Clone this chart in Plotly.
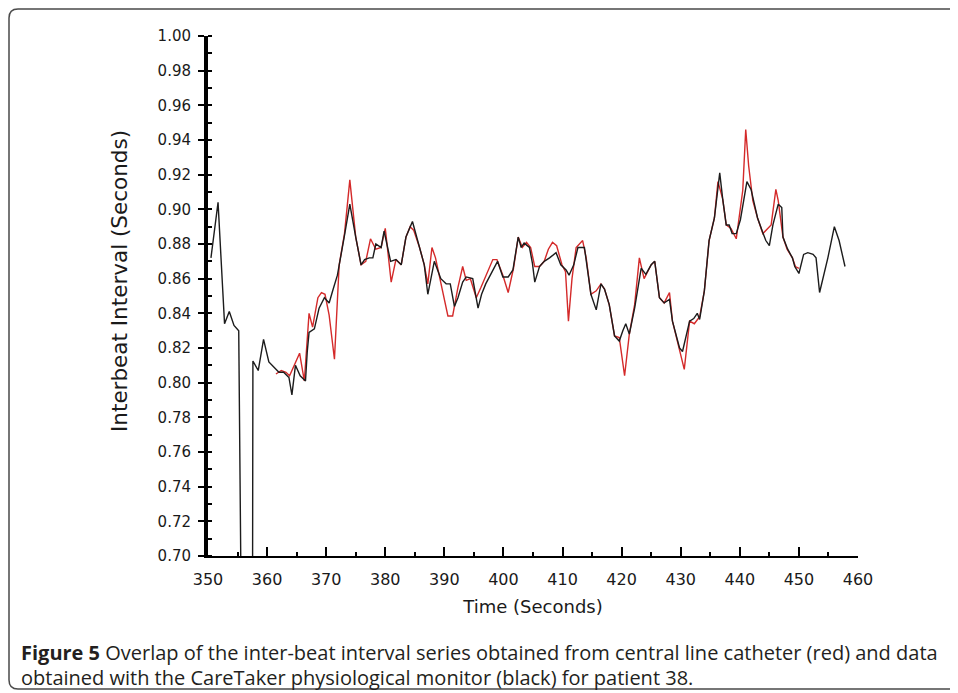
import plotly.graph_objects as go

# CareTaker physiological monitor (black)
t_black = [350.5, 351.1, 351.7, 352.5, 352.8, 353.6, 354.4, 355.2, 355.35, 355.8, 357.5, 357.6,
           358.5, 359.4, 360.3, 361.1, 362.0, 362.8, 363.7, 364.2, 364.8, 365.6, 366.5, 366.8,
           367.1, 368.0, 368.8, 369.7, 370.5, 371.1, 371.9, 373.1, 374.0, 375.0, 375.9, 376.5,
           377.3, 377.9, 378.4, 379.3, 379.8, 380.9, 381.8, 382.7, 383.5, 384.6, 385.8, 386.6,
           387.2, 388.3, 389.4, 390.3, 391.0, 391.7, 392.3, 393.1, 393.7, 394.8, 395.7, 396.3,
           397.0, 397.9, 399.0, 399.9, 400.8, 401.6, 402.5, 403.0, 403.5, 404.4, 404.9, 405.3,
           406.1, 406.9, 407.8, 408.9, 409.7, 410.6, 411.1, 411.9, 412.6, 413.7, 414.3, 414.8,
           415.7, 416.5, 417.1, 417.9, 418.8, 419.6, 420.2, 420.7, 421.3, 422.2, 423.3, 424.1,
           425.0, 425.6, 426.4, 427.2, 428.1, 428.6, 429.8, 430.3, 431.5, 432.2, 432.8, 433.2,
           434.0, 434.8, 435.7, 436.6, 437.1, 437.7, 438.2, 438.7, 439.4, 440.1, 441.2, 441.9,
           442.4, 443.0, 443.9, 444.4, 445.0, 445.6, 446.5, 447.1, 447.3, 448.1, 448.9, 449.3,
           450.0, 450.8, 451.5, 452.4, 452.9, 453.5, 454.9, 456.0, 456.8, 457.8]
ibi_black = [0.872, 0.888, 0.904, 0.853, 0.834, 0.841, 0.833, 0.830, 0.752, 0.600, 0.600, 0.8125,
             0.807, 0.825, 0.812, 0.809, 0.806, 0.806, 0.803, 0.793, 0.810, 0.804, 0.801, 0.818,
             0.829, 0.831, 0.843, 0.849, 0.846, 0.853, 0.862, 0.885, 0.903, 0.884, 0.868, 0.871,
             0.872, 0.872, 0.880, 0.878, 0.8875, 0.870, 0.871, 0.868, 0.884, 0.893, 0.878, 0.868,
             0.851, 0.870, 0.860, 0.857, 0.857, 0.844, 0.849, 0.858, 0.861, 0.860, 0.843, 0.851,
             0.857, 0.8625, 0.870, 0.861, 0.861, 0.865, 0.884, 0.878, 0.8805, 0.878, 0.869, 0.858,
             0.867, 0.870, 0.872, 0.875, 0.868, 0.865, 0.862, 0.868, 0.878, 0.878, 0.864, 0.851,
             0.842, 0.857, 0.854, 0.845, 0.827, 0.824, 0.830, 0.834, 0.828, 0.843, 0.866, 0.8625,
             0.868, 0.870, 0.849, 0.846, 0.848, 0.8355, 0.820, 0.818, 0.8355, 0.837, 0.840, 0.8365,
             0.853, 0.882, 0.895, 0.921, 0.906, 0.891, 0.891, 0.886, 0.886, 0.894, 0.916, 0.9115,
             0.904, 0.895, 0.8865, 0.882, 0.879, 0.891, 0.903, 0.901, 0.884, 0.877, 0.872, 0.867,
             0.863, 0.874, 0.875, 0.874, 0.872, 0.852, 0.872, 0.890, 0.882, 0.867]

# Central line catheter (red)
t_red = [361.5, 362.4, 363.2, 363.8, 364.6, 365.5, 366.3, 367.1, 367.7, 368.6, 369.2, 369.8,
         370.5, 371.4, 372.2, 373.1, 374.0, 375.0, 375.9, 376.7, 377.5, 378.4, 379.3, 380.0,
         381.0, 381.8, 382.7, 383.5, 384.2, 384.8, 385.8, 386.6, 387.2, 387.9, 388.5, 389.4,
         390.6, 391.4, 392.3, 393.1, 393.7, 394.4, 395.4, 396.2, 397.1, 398.2, 398.9, 399.9,
         400.8, 401.7, 402.5, 403.2, 403.9, 404.6, 405.3, 406.1, 406.9, 407.6, 408.3, 409.0,
         409.9, 410.5, 411.0, 411.6, 412.3, 413.4, 414.0, 414.8, 415.7, 416.5, 417.1, 417.9,
         418.8, 419.6, 420.5, 421.3, 422.2, 423.0, 423.8, 425.0, 425.6, 426.4, 427.2, 428.1,
         428.6, 429.6, 430.6, 431.5, 432.3, 433.2, 434.0, 434.8, 435.7, 436.3, 437.1, 437.7,
         438.5, 439.4, 440.5, 441.0, 441.5, 442.2, 443.0, 443.9, 445.3, 446.1, 446.5, 447.3,
         448.0, 448.9, 449.4, 450.0]
ibi_red = [0.805, 0.807, 0.806, 0.804, 0.810, 0.817, 0.801, 0.840, 0.832, 0.849, 0.852, 0.851,
           0.839, 0.8135, 0.868, 0.886, 0.917, 0.884, 0.868, 0.870, 0.883, 0.877, 0.878, 0.889,
           0.858, 0.871, 0.868, 0.884, 0.890, 0.888, 0.878, 0.868, 0.857, 0.878, 0.872, 0.857,
           0.8385, 0.8385, 0.855, 0.867, 0.859, 0.860, 0.849, 0.855, 0.862, 0.871, 0.871, 0.862,
           0.852, 0.866, 0.884, 0.878, 0.881, 0.878, 0.867, 0.867, 0.870, 0.877, 0.881, 0.879,
           0.868, 0.864, 0.8355, 0.860, 0.878, 0.882, 0.872, 0.851, 0.853, 0.857, 0.854, 0.845,
           0.827, 0.826, 0.804, 0.828, 0.845, 0.872, 0.860, 0.868, 0.870, 0.849, 0.846, 0.852,
           0.8355, 0.822, 0.8077, 0.8355, 0.834, 0.838, 0.853, 0.882, 0.895, 0.916, 0.906, 0.891,
           0.889, 0.883, 0.911, 0.946, 0.925, 0.905, 0.895, 0.886, 0.891, 0.9115, 0.905, 0.884,
           0.877, 0.872, 0.867, 0.866]

x_ticks = list(range(350, 461, 10))
y_ticks = [round(0.70 + 0.02 * i, 2) for i in range(16)]
y_tick_text = [f"{v:.2f}" for v in y_ticks]

FONT = "DejaVu Sans"

fig = go.Figure()
fig.add_trace(go.Scatter(x=t_red, y=ibi_red, mode="lines",
                         line=dict(color="#d42a2a", width=1.4), showlegend=False))
fig.add_trace(go.Scatter(x=t_black, y=ibi_black, mode="lines",
                         line=dict(color="#1c1c1c", width=1.4), showlegend=False))

# page offset (body margin) compensation
OX, OY = 7, 7
W, H = 950, 686
L, T = 207 - OX, 35 - OY
pw, ph = 650, 520
R, B = W - L - pw, H - T - ph


def px(X):
    return (X - OX - L) / pw


def py(Y):
    return (T + ph - (Y - OY)) / ph


# rounded frame around the figure (open on the right)
rx, ry = 9 / pw, 9 / ph
xl, xr, yt, yb = (1 - L) / pw, px(975), (T + ph - 1) / ph, py(688)
frame = (f"M {xr},{yt} L {xl + rx},{yt} Q {xl},{yt} {xl},{yt - ry} "
         f"L {xl},{yb + ry} Q {xl},{yb} {xl + rx},{yb} L {xr},{yb}")

CAP_FONT = dict(family="Open Sans", size=20, color="#231f20")

fig.update_layout(
    width=W, height=H,
    margin=dict(l=L, r=R, t=T, b=B),
    paper_bgcolor="white", plot_bgcolor="white",
    font=dict(family=FONT, color="#1a1a1a"),
    shapes=[dict(type="path", path=frame, xref="paper", yref="paper",
                 line=dict(color="#4a4a4a", width=1.5))],
    annotations=[
        dict(xref="paper", yref="paper", x=px(118), y=py(280), xanchor="center", yanchor="middle",
             showarrow=False, textangle=-90, text="Interbeat Interval (Seconds)",
             font=dict(size=21.5, family=FONT, color="#1a1a1a")),
        dict(xref="paper", yref="paper", x=px(18), y=py(651), xanchor="left", yanchor="middle",
             showarrow=False, align="left",
             text="<b>Figure 5</b> Overlap of the inter-beat interval series obtained from central line catheter (red) and data",
             font=CAP_FONT),
        dict(xref="paper", yref="paper", x=px(18), y=py(676), xanchor="left", yanchor="middle",
             showarrow=False, align="left",
             text="obtained with the CareTaker physiological monitor (black) for patient 38.",
             font=CAP_FONT),
    ],
)

fig.update_xaxes(
    range=[350, 460], tickvals=x_ticks, ticks="inside", ticklen=9, tickwidth=2,
    tickcolor="black", showline=True, linewidth=2, linecolor="black",
    showgrid=False, zeroline=False, ticklabelstandoff=8,
    tickfont=dict(size=16, family=FONT, color="#1a1a1a"),
    minor=dict(dtick=5, ticks="inside", ticklen=4, tickwidth=2, tickcolor="black", showgrid=False),
    title=dict(text="Time (Seconds)", font=dict(size=18, family=FONT, color="#1a1a1a"), standoff=12),
)
fig.update_yaxes(
    range=[0.70, 1.00], tickvals=y_ticks, ticktext=y_tick_text, ticks="outside", ticklen=6,
    tickwidth=2, tickcolor="black", showline=True, linewidth=4, linecolor="black",
    showgrid=False, zeroline=False, ticklabelstandoff=4,
    tickfont=dict(size=15, family=FONT, color="#1a1a1a"),
    minor=dict(dtick=0.01, ticks="inside", ticklen=4, tickwidth=2, tickcolor="black", showgrid=False),
)

fig.write_html("out.html")
